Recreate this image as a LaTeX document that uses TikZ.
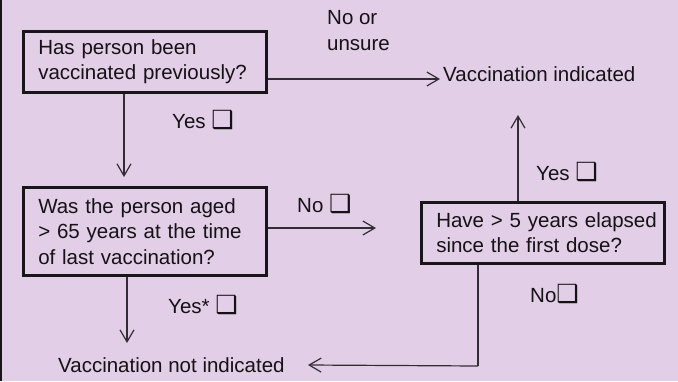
\documentclass[tikz,border=0pt]{standalone}
\usepackage{fontspec}
\setmainfont{Liberation Sans}
\newfontfamily\symfont{DejaVu Sans}
\usetikzlibrary{arrows.meta}
\definecolor{bgc}{RGB}{227,206,232}
\definecolor{boxc}{RGB}{25,22,26}
\definecolor{linec}{RGB}{50,45,52}
\definecolor{txtc}{RGB}{20,18,20}
\newcommand{\chk}{{\symfont\fontsize{25}{25}\selectfont ❑}}
\tikzset{
  qbox/.style={draw=boxc, line width=2.5pt, anchor=north west, align=left,
    text width=213pt, inner xsep=15pt, inner ysep=0pt, minimum width=243pt,
    font=\fontsize{20.5}{25.5}\selectfont, text=txtc},
  lbl/.style={anchor=base west, inner sep=0pt, font=\fontsize{20.5}{25.5}\selectfont, text=txtc},
  conn/.style={draw=linec, line width=1.2pt, -{Straight Barb[length=12pt,width=14pt,line width=1.2pt]}},
  plain/.style={draw=linec, line width=1.2pt}
}
\begin{document}
\begin{tikzpicture}[x=1pt,y=-1pt]
\fill[bgc] (0,0) rectangle (678,381);
\useasboundingbox (0,0) rectangle (678,381);
\draw[boxc, line width=2pt] (1,0) -- (1,381);

\node[qbox, minimum height=61pt] (q1) at (22,30) {Has person been\\vaccinated previously?};
\node[qbox, minimum height=88pt] (q2) at (22,186) {Was the person aged\\> 65 years at the time\\of last vaccination?};
\node[qbox, minimum height=61pt] (q3) at (420,201) {\mbox{Have > 5 years elapsed}\\since the first dose?};

\node[lbl] (vi) at (443,81) {Vaccination indicated};
\node[lbl] (vni) at (58,372) {Vaccination not indicated};

\node[lbl, anchor=north west, align=left] (nounsure) at (327,10.5) {No or\\unsure};
\node[lbl] (yes1) at (172,128) {Yes \chk};
\node[lbl] (no2) at (297,212) {No \chk};
\node[lbl] (yes2) at (168,313) {Yes* \chk};
\node[lbl] (yes3) at (536,180) {Yes \chk};
\node[lbl] (no3) at (530,302) {No\chk};

\coordinate (t1) at (440,79);
\coordinate (t2) at (124,177);
\coordinate (t3) at (376,228);
\coordinate (t4) at (127,343);
\coordinate (t5) at (518,115);
\coordinate (t6) at (308,365);
\coordinate (b6) at (478,366);

\draw[conn] (q1.east |- t1) -- (t1);
\draw[conn] (q1.south -| t2) -- (t2);
\draw[conn] (q2.east |- t3) -- (t3);
\draw[conn] (q2.south -| t4) -- (t4);
\draw[conn] (q3.north -| t5) -- (t5);
\draw[plain] (q3.south -| b6) -- (b6);
\draw[conn] (b6) -- (t6);
\end{tikzpicture}
\end{document}
